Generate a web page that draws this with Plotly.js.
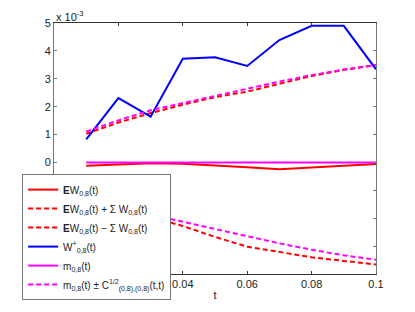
<!DOCTYPE html>
<html>
<head>
<meta charset="utf-8">
<script src="https://cdn.plot.ly/plotly-3.0.1.min.js"></script>
<style>html,body{margin:0;padding:0;background:#fff;}#chart{width:415px;height:312px;}</style>
</head>
<body>
<div id="chart"></div>
<script>
// values in units of 1e-3
const t = [0.01,0.02,0.03,0.04,0.05,0.06,0.07,0.08,0.09,0.10];
const ew = [-0.12,-0.08,-0.03,-0.05,-0.10,-0.17,-0.24,-0.18,-0.12,-0.06];
const ewPlus = [1.03,1.43,1.77,2.07,2.34,2.54,2.82,3.10,3.32,3.49];
const ewMinus = [-1.27,-1.62,-1.95,-2.28,-2.67,-3.02,-3.22,-3.40,-3.53,-3.66];
const wPlus = [0.83,2.31,1.64,3.72,3.77,3.46,4.39,4.90,4.90,3.34];
const m = [0,0,0,0,0,0,0,0,0,0];
const mPlus = [1.11,1.51,1.87,2.13,2.40,2.66,2.90,3.13,3.33,3.49];
const mMinus = [-1.11,-1.51,-1.87,-2.13,-2.40,-2.66,-2.90,-3.13,-3.33,-3.49];
const names = [
  "<b>E</b>W<sub>0,8</sub>(t)",
  "<b>E</b>W<sub>0,8</sub>(t) + Σ W<sub>0,8</sub>(t)",
  "<b>E</b>W<sub>0,8</sub>(t) − Σ W<sub>0,8</sub>(t)",
  "W<sup>+</sup><sub>0,8</sub>(t)",
  "m<sub>0,8</sub>(t)",
  "m<sub>0,8</sub>(t) ± C<sup>1/2</sup><sub>(0,8),(0,8)</sub>(t,t)"
];
const red = "#ff0000", blue = "#0000ff", mag = "#ff00ff";
const dash = "5px,3px";
const traces = [
  {x:t, y:ew, name:names[0], mode:"lines", line:{color:red,width:2}},
  {x:t, y:ewPlus, name:names[1], mode:"lines", line:{color:red,width:2,dash:dash}},
  {x:t, y:ewMinus, name:names[2], mode:"lines", line:{color:red,width:2,dash:dash}},
  {x:t, y:wPlus, name:names[3], mode:"lines", line:{color:blue,width:2}},
  {x:t, y:m, name:names[4], mode:"lines", line:{color:mag,width:2}},
  {x:t, y:mPlus, name:names[5], legendgroup:"mc", mode:"lines", line:{color:mag,width:2,dash:dash}},
  {x:t, y:mMinus, name:names[5], legendgroup:"mc", showlegend:false, mode:"lines", line:{color:mag,width:2,dash:dash}}
];
const axisCommon = {showgrid:false, zeroline:false, showline:true, linewidth:1, mirror:"ticks", ticks:"inside", ticklen:3, tickfont:{size:11,color:"#222"}};
const layout = {
  width:415, height:312,
  margin:{l:54, r:39, t:23, b:35},
  paper_bgcolor:"#fff", plot_bgcolor:"#fff",
  font:{family:"Liberation Sans, Arial, sans-serif", size:11, color:"#222"},
  xaxis:Object.assign({range:[0,0.1], dtick:0.02, tick0:0, linecolor:"#333", tickcolor:"#333", title:{text:"t", font:{size:11}, standoff:2}}, axisCommon),
  yaxis:Object.assign({range:[-4,5], dtick:1, tick0:0, linecolor:"#777", tickcolor:"#777"}, axisCommon),
  showlegend:true,
  legend:{x:-0.099, y:0.398, xanchor:"left", yanchor:"top", bgcolor:"#fff", bordercolor:"#777", borderwidth:1, font:{size:10,color:"#222"}, tracegroupgap:0},
  annotations:[{xref:"paper", yref:"paper", x:0, y:1, xanchor:"left", yanchor:"bottom", text:"x 10<sup>-3</sup>", showarrow:false, font:{size:11,color:"#222"}, yshift:-2}]
};
Plotly.newPlot("chart", traces, layout, {displayModeBar:false, staticPlot:true});
</script>
</body>
</html>
